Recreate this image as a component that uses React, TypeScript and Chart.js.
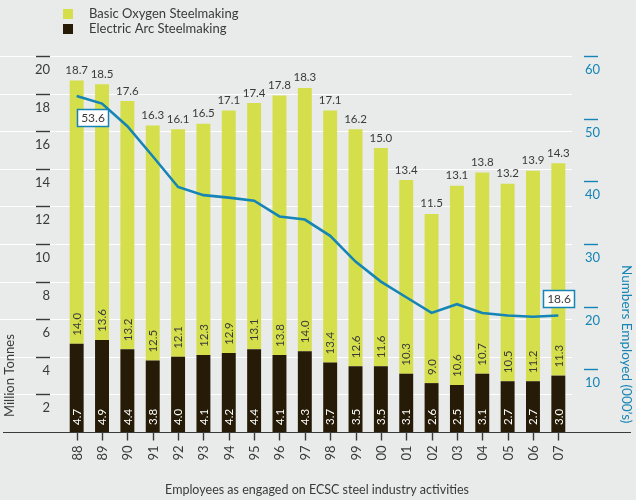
import React, { useEffect, useRef } from "react";
import { Chart, registerables } from "chart.js";

Chart.register(...registerables);

const years = ["88", "89", "90", "91", "92", "93", "94", "95", "96", "97", "98", "99", "00", "01", "02", "03", "04", "05", "06", "07"];
const electricArc = [4.7, 4.9, 4.4, 3.8, 4.0, 4.1, 4.2, 4.4, 4.1, 4.3, 3.7, 3.5, 3.5, 3.1, 2.6, 2.5, 3.1, 2.7, 2.7, 3.0];
const basicOxygen = [14.0, 13.6, 13.2, 12.5, 12.1, 12.3, 12.9, 13.1, 13.8, 14.0, 13.4, 12.6, 11.6, 10.3, 9.0, 10.6, 10.7, 10.5, 11.2, 11.3];
const totalLabels = ["18.7", "18.5", "17.6", "16.3", "16.1", "16.5", "17.1", "17.4", "17.8", "18.3", "17.1", "16.2", "15.0", "13.4", "11.5", "13.1", "13.8", "13.2", "13.9", "14.3"];
const employed = [53.6, 52.4, 48.8, 44.0, 39.1, 37.8, 37.4, 36.9, 34.4, 33.9, 31.3, 27.2, 24.0, 21.5, 19.0, 20.4, 19.0, 18.6, 18.4, 18.6];
const leftTicks = [2, 4, 6, 8, 10, 12, 14, 16, 18, 20];
const rightTicks = [10, 20, 30, 40, 50, 60];
const boxedPoints = [0, 19];

const BG = "#e9eaea";
const GREEN = "#d4df4b";
const DARK = "#251b07";
const BLUE = "#1585b5";
const TEXT = "#3a3a3a";
const FONT = "Lato, 'Open Sans', sans-serif";

const customPlugin = {
  id: "custom",
  beforeDraw(chart: any) {
    const { ctx, chartArea, scales } = chart;
    ctx.save();
    ctx.fillStyle = BG;
    ctx.fillRect(0, 0, chart.width, chart.height);
    ctx.strokeStyle = "#ffffff";
    ctx.lineWidth = 1;
    leftTicks.forEach((v) => {
      const y = Math.round(scales.y.getPixelForValue(v)) + 0.5;
      ctx.beginPath();
      ctx.moveTo(0, y);
      ctx.lineTo(chartArea.right + 1, y);
      ctx.stroke();
    });
    ctx.restore();
  },
  afterDatasetsDraw(chart: any) {
    const { ctx } = chart;
    const darkMeta = chart.getDatasetMeta(0);
    const greenMeta = chart.getDatasetMeta(1);
    const lineMeta = chart.getDatasetMeta(2);
    ctx.save();
    years.forEach((_, i) => {
      const db = darkMeta.data[i];
      const gb = greenMeta.data[i];
      const x = db.x;
      // total above
      ctx.font = `11.5px ${FONT}`;
      ctx.fillStyle = TEXT;
      ctx.textAlign = "center";
      ctx.textBaseline = "alphabetic";
      ctx.fillText(totalLabels[i], x, gb.y - 6.5);
      // green label, rotated
      ctx.save();
      ctx.translate(x, db.y - 8);
      ctx.rotate(-Math.PI / 2);
      ctx.textAlign = "left";
      ctx.textBaseline = "middle";
      ctx.fillStyle = TEXT;
      ctx.fillText(basicOxygen[i].toFixed(1), 0, 0.5);
      ctx.restore();
      // dark label
      ctx.save();
      ctx.translate(x, db.base - 7);
      ctx.rotate(-Math.PI / 2);
      ctx.textAlign = "left";
      ctx.textBaseline = "middle";
      ctx.fillStyle = "#ffffff";
      ctx.fillText(electricArc[i].toFixed(1), 0, 0.5);
      ctx.restore();
    });
    // boxed line labels
    boxedPoints.forEach((i) => {
      const p = lineMeta.data[i];
      const w = 31;
      const h = 17;
      let bx: number, by: number;
      if (i === 0) {
        bx = p.x;
        by = p.y + 13;
      } else {
        bx = p.x - w / 2;
        by = p.y - 8 - h;
      }
      bx = Math.round(bx) + 0.5;
      by = Math.round(by) + 0.5;
      ctx.fillStyle = "#ffffff";
      ctx.fillRect(bx, by, w, h);
      ctx.strokeStyle = BLUE;
      ctx.lineWidth = 1.5;
      ctx.strokeRect(bx, by, w, h);
      ctx.fillStyle = TEXT;
      ctx.font = `12px ${FONT}`;
      ctx.textAlign = "center";
      ctx.textBaseline = "middle";
      ctx.fillText(employed[i].toFixed(1), bx + w / 2, by + h / 2 + 0.5);
    });
    ctx.restore();
  },
  afterDraw(chart: any) {
    const { ctx, chartArea, scales } = chart;
    const darkMeta = chart.getDatasetMeta(0);
    ctx.save();
    // baseline
    const by = Math.round(chartArea.bottom) + 0.5;
    ctx.strokeStyle = TEXT;
    ctx.lineWidth = 1.2;
    ctx.beginPath();
    ctx.moveTo(3, by);
    ctx.lineTo(631, by);
    ctx.stroke();
    // left ticks
    ctx.font = `13px ${FONT}`;
    leftTicks.forEach((v) => {
      const y = Math.round(scales.y.getPixelForValue(v)) + 0.5;
      ctx.strokeStyle = TEXT;
      ctx.lineWidth = 1.4;
      ctx.beginPath();
      ctx.moveTo(36, y);
      ctx.lineTo(50, y);
      ctx.stroke();
      ctx.fillStyle = TEXT;
      ctx.textAlign = "right";
      ctx.textBaseline = "middle";
      ctx.fillText(String(v), 50, y + 13.5);
    });
    // right ticks
    rightTicks.forEach((v) => {
      const y = Math.round(scales.y1.getPixelForValue(v)) + 0.5;
      ctx.strokeStyle = BLUE;
      ctx.lineWidth = 1.4;
      ctx.beginPath();
      ctx.moveTo(584, y);
      ctx.lineTo(598, y);
      ctx.stroke();
      ctx.fillStyle = BLUE;
      ctx.textAlign = "left";
      ctx.textBaseline = "middle";
      ctx.fillText(String(v), 585, y + 13.5);
    });
    // x ticks and labels
    years.forEach((yr, i) => {
      const x = Math.round(darkMeta.data[i].x) + 0.5;
      ctx.strokeStyle = TEXT;
      ctx.lineWidth = 1.4;
      ctx.beginPath();
      ctx.moveTo(x, by);
      ctx.lineTo(x, by + 8);
      ctx.stroke();
      ctx.save();
      ctx.translate(x, by + 13);
      ctx.rotate(-Math.PI / 2);
      ctx.textAlign = "right";
      ctx.textBaseline = "middle";
      ctx.fillStyle = TEXT;
      ctx.font = `13px ${FONT}`;
      ctx.fillText(yr, 0, 0.5);
      ctx.restore();
    });
    // x title
    ctx.font = `12.5px ${FONT}`;
    ctx.fillStyle = TEXT;
    ctx.textAlign = "center";
    ctx.textBaseline = "middle";
    ctx.fillText("Employees as engaged on ECSC steel industry activities", 317, 490);
    // left title
    ctx.save();
    ctx.translate(10, 417);
    ctx.rotate(-Math.PI / 2);
    ctx.textAlign = "left";
    ctx.textBaseline = "middle";
    ctx.font = `13px ${FONT}`;
    ctx.fillStyle = TEXT;
    ctx.fillText("Million Tonnes", 0, 0);
    ctx.restore();
    // right title
    ctx.save();
    ctx.translate(626, 265);
    ctx.rotate(Math.PI / 2);
    ctx.textAlign = "left";
    ctx.textBaseline = "middle";
    ctx.font = `13.5px ${FONT}`;
    ctx.fillStyle = BLUE;
    ctx.fillText("Numbers Employed (000\u2019s)", 0, 0);
    ctx.restore();
    // legend
    const legend = [
      { label: "Basic Oxygen Steelmaking", color: GREEN, y: 14 },
      { label: "Electric Arc Steelmaking", color: DARK, y: 29 },
    ];
    legend.forEach((l) => {
      ctx.fillStyle = l.color;
      ctx.fillRect(63, l.y - 5, 10, 10);
      ctx.fillStyle = TEXT;
      ctx.font = `13px ${FONT}`;
      ctx.textAlign = "left";
      ctx.textBaseline = "middle";
      ctx.fillText(l.label, 89, l.y);
    });
    ctx.restore();
  },
};

export default function App() {
  const canvasRef = useRef<HTMLCanvasElement | null>(null);

  useEffect(() => {
    if (!canvasRef.current) return;
    const chart = new Chart(canvasRef.current, {
      type: "bar",
      data: {
        labels: years,
        datasets: [
          {
            type: "bar",
            label: "Electric Arc Steelmaking",
            data: electricArc,
            backgroundColor: DARK,
            yAxisID: "y",
            stack: "steel",
            barPercentage: 0.55,
            categoryPercentage: 1,
            order: 2,
          },
          {
            type: "bar",
            label: "Basic Oxygen Steelmaking",
            data: basicOxygen,
            backgroundColor: GREEN,
            yAxisID: "y",
            stack: "steel",
            barPercentage: 0.55,
            categoryPercentage: 1,
            order: 2,
          },
          {
            type: "line",
            label: "Numbers Employed",
            data: employed,
            borderColor: BLUE,
            borderWidth: 2.6,
            pointRadius: 0,
            tension: 0,
            yAxisID: "y1",
            order: 1,
          } as any,
        ],
      },
      options: {
        animation: false,
        responsive: false,
        devicePixelRatio: 1,
        layout: { padding: { left: 64, right: 65, top: 56, bottom: 68 } },
        plugins: { legend: { display: false }, tooltip: { enabled: false } },
        scales: {
          x: { display: false, stacked: true, offset: true },
          y: { display: false, stacked: true, min: 0, max: 20 },
          y1: { display: false, min: 0, max: 60, position: "right" },
        },
      },
      plugins: [customPlugin],
    });
    return () => chart.destroy();
  }, []);

  return (
    <div style={{ position: "fixed", left: 0, top: 0, width: 636, height: 500, background: BG }}>
      <canvas ref={canvasRef} width={636} height={500} style={{ display: "block" }} />
    </div>
  );
}
